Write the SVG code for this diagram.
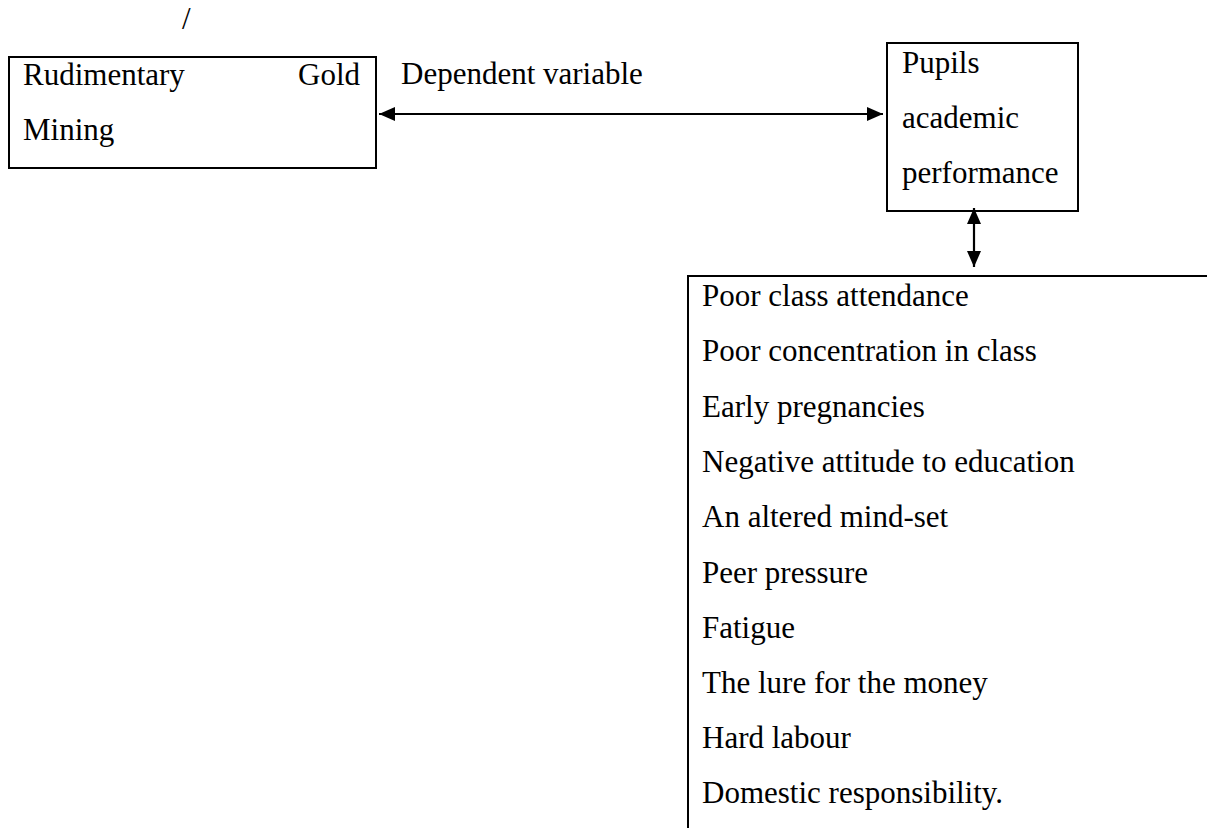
<svg xmlns="http://www.w3.org/2000/svg" width="1207" height="828" viewBox="0 0 1207 828">
<defs>
<style>
text{font-family:"Liberation Serif","Times New Roman",serif;font-size:31px;fill:#000}
.box{fill:#fff;stroke:#000;stroke-width:2}
.conn{stroke:#000;stroke-width:2.2;fill:none}
</style>
<marker id="ah" viewBox="0 0 16 14" refX="16" refY="7" markerWidth="16" markerHeight="14" markerUnits="userSpaceOnUse" orient="auto-start-reverse">
<path d="M0,0 L16,7 L0,14 Z" fill="#000"/>
</marker>
</defs>
<rect width="1207" height="828" fill="#fff"/>
<text x="182" y="29">/</text>
<g id="node-mining">
<rect class="box" x="9" y="57" width="367" height="111"/>
<text x="23" y="85">Rudimentary</text>
<text x="360" y="85" text-anchor="end">Gold</text>
<text x="23" y="140">Mining</text>
</g>
<g id="node-performance">
<rect class="box" x="887" y="43" width="191" height="168"/>
<text x="902" y="73">Pupils</text>
<text x="902" y="128">academic</text>
<text x="902" y="183">performance</text>
</g>
<g id="node-factors">
<path d="M1210,276 H688 V830" class="box" fill="none"/>
<text x="702" y="306">Poor class attendance</text>
<text x="702" y="361">Poor concentration in class</text>
<text x="702" y="416.5">Early pregnancies</text>
<text x="702" y="472">Negative attitude to education</text>
<text x="702" y="527">An altered mind-set</text>
<text x="702" y="582.5">Peer pressure</text>
<text x="702" y="637.5">Fatigue</text>
<text x="702" y="693">The lure for the money</text>
<text x="702" y="748">Hard labour</text>
<text x="702" y="803">Domestic responsibility.</text>
</g>
<g id="label-dependent">
<text x="401" y="84">Dependent variable</text>
</g>
<g id="connectors">
<line class="conn" x1="379" y1="114" x2="883" y2="114" marker-start="url(#ah)" marker-end="url(#ah)"/>
<line class="conn" x1="974" y1="208" x2="974" y2="267" marker-start="url(#ah)" marker-end="url(#ah)"/>
</g>
</svg>
